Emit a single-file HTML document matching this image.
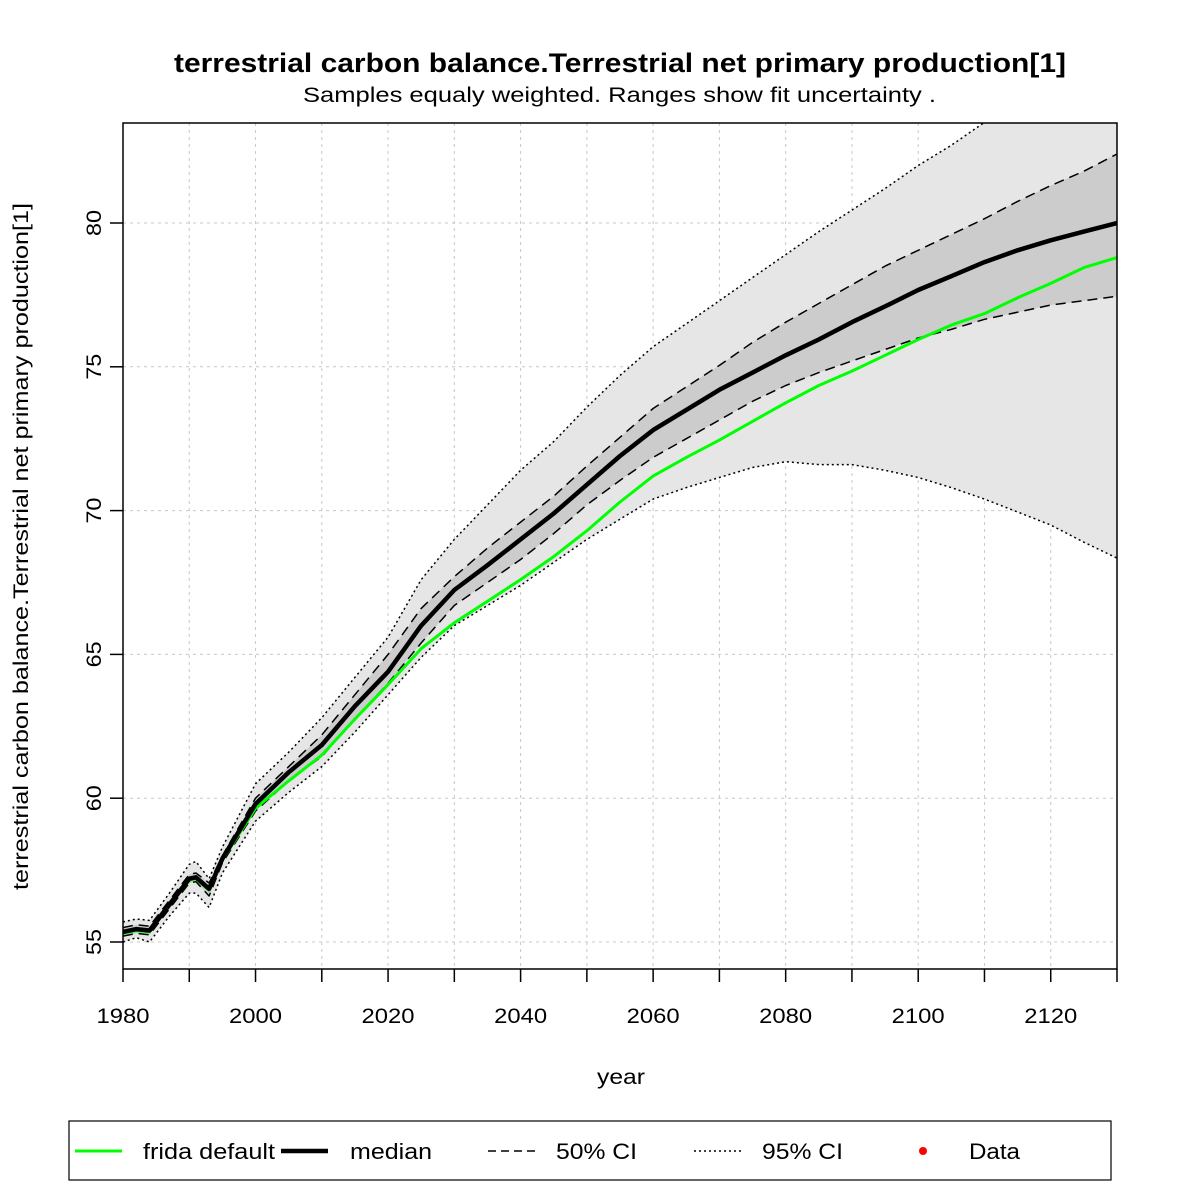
<!DOCTYPE html>
<html><head><meta charset="utf-8"><style>
body{margin:0;background:#fff;}
svg{display:block;font-family:"Liberation Sans",Arial,sans-serif;}
</style></head><body>
<svg id="chart" width="1181" height="1181" viewBox="0 0 1181 1181" xmlns="http://www.w3.org/2000/svg">
<defs><clipPath id="pc"><rect x="123" y="123" width="994" height="846"/></clipPath></defs>
<text x="174" y="72" font-size="27" font-weight="bold" textLength="892" lengthAdjust="spacingAndGlyphs">terrestrial carbon balance.Terrestrial net primary production[1]</text>
<text x="303" y="102" font-size="21" textLength="633" lengthAdjust="spacingAndGlyphs">Samples equaly weighted. Ranges show  fit uncertainty .</text>
<g id="grid"></g>
<g id="bands" clip-path="url(#pc)"></g>
<g id="lines" clip-path="url(#pc)"></g>
<rect x="123" y="123" width="994" height="846" fill="none" stroke="#000" stroke-width="1.5"/>
<g id="axes"></g>
<text x="597" y="1084" font-size="21" textLength="48" lengthAdjust="spacingAndGlyphs">year</text>
<text transform="translate(28,890) rotate(-90)" font-size="21" textLength="687" lengthAdjust="spacingAndGlyphs">terrestrial carbon balance.Terrestrial net primary production[1]</text>
<g>
<rect x="69" y="1121" width="1042" height="59" fill="none" stroke="#000" stroke-width="1.2"/>
<line x1="75" y1="1151" x2="122" y2="1151" stroke="#00ff00" stroke-width="3"/>
<text x="143" y="1159" font-size="22" textLength="132" lengthAdjust="spacingAndGlyphs">frida default</text>
<line x1="281" y1="1151" x2="328" y2="1151" stroke="#000" stroke-width="4.5"/>
<text x="350" y="1159" font-size="22" textLength="82" lengthAdjust="spacingAndGlyphs">median</text>
<line x1="488" y1="1151" x2="535" y2="1151" stroke="#000" stroke-width="1.5" stroke-dasharray="8,5"/>
<text x="556" y="1159" font-size="22" textLength="81" lengthAdjust="spacingAndGlyphs">50% CI</text>
<line x1="694" y1="1151" x2="741" y2="1151" stroke="#000" stroke-width="1.5" stroke-dasharray="2,3"/>
<text x="762" y="1159" font-size="22" textLength="81" lengthAdjust="spacingAndGlyphs">95% CI</text>
<circle cx="923" cy="1151" r="4" fill="#ff0000"/>
<text x="969" y="1159" font-size="22" textLength="51" lengthAdjust="spacingAndGlyphs">Data</text>
</g>
</svg>
<script>
const years=[1980,1982,1984,1987,1990,1991,1993,1995,2000,2005,2010,2015,2020,2025,2030,2035,2040,2045,2050,2055,2060,2065,2070,2075,2080,2085,2090,2095,2100,2105,2110,2115,2120,2125,2130];
const median=[55.35,55.45,55.4,56.3,57.2,57.25,56.85,57.9,59.8,60.9,61.85,63.2,64.4,66.0,67.24,68.1,69.0,69.9,70.9,71.9,72.8,73.5,74.2,74.8,75.4,75.95,76.55,77.1,77.67,78.15,78.64,79.05,79.4,79.7,80.0];
const fridaDefault=[55.3,55.4,55.35,56.3,57.15,57.2,56.8,57.85,59.65,60.6,61.5,62.75,63.95,65.2,66.1,66.85,67.6,68.4,69.3,70.3,71.2,71.85,72.45,73.1,73.75,74.35,74.85,75.4,75.95,76.45,76.85,77.4,77.9,78.45,78.8];
const ci50Upper=[55.5,55.6,55.55,56.45,57.35,57.4,57.05,58.0,60.0,61.1,62.2,63.6,65.0,66.6,67.7,68.7,69.6,70.5,71.55,72.55,73.55,74.3,75.05,75.85,76.55,77.2,77.85,78.5,79.05,79.6,80.15,80.75,81.3,81.8,82.4];
const ci50Lower=[55.2,55.3,55.25,56.15,57.05,57.1,56.6,57.75,59.55,60.6,61.45,62.75,64.0,65.4,66.7,67.5,68.3,69.2,70.2,71.05,71.85,72.5,73.15,73.8,74.35,74.8,75.2,75.6,76.0,76.3,76.65,76.9,77.15,77.3,77.45];
const ci95Upper=[55.7,55.8,55.75,56.7,57.7,57.8,57.2,58.3,60.5,61.6,62.8,64.2,65.6,67.6,69.0,70.2,71.4,72.4,73.6,74.7,75.7,76.5,77.3,78.1,78.9,79.7,80.45,81.2,82.0,82.7,83.5,84.3,85.0,85.8,86.5];
const ci95Lower=[55.0,55.15,55.0,55.9,56.7,56.7,56.2,57.4,59.2,60.2,61.1,62.3,63.6,64.9,66.0,66.7,67.4,68.2,69.0,69.7,70.4,70.8,71.15,71.5,71.7,71.6,71.6,71.4,71.15,70.8,70.4,69.95,69.5,68.9,68.35];
const xTicks=[1980,2000,2020,2040,2060,2080,2100,2120];
const xMinor=[1990,2010,2030,2050,2070,2090,2110,2130];
const yTicks=[55,60,65,70,75,80];
const NS="http://www.w3.org/2000/svg";
const X=y=>123+(y-1980)*994/150;
const Y=v=>942-(v-55)*719/25;
function mk(tag,attrs,parent){const e=document.createElementNS(NS,tag);for(const k in attrs)e.setAttribute(k,attrs[k]);parent.appendChild(e);return e;}
const grid=document.getElementById('grid'),axes=document.getElementById('axes'),bands=document.getElementById('bands'),lines=document.getElementById('lines');
xTicks.concat(xMinor).forEach(t=>{
 const g=mk('line',{x1:X(t),x2:X(t),y1:123,y2:969,stroke:'#c8c8c8','stroke-dasharray':'3,4'},grid);
 
 
 const tk=mk('line',{x1:X(t),x2:X(t),y1:969,y2:982,stroke:'#000','stroke-width':1.5},axes);
 
 
});
xTicks.forEach(t=>{
 const tx=mk('text',{x:X(t)-26.5,y:1023,'font-size':21,textLength:53,lengthAdjust:'spacingAndGlyphs'},axes);tx.textContent=t;
 
 
});
yTicks.forEach(t=>{
 const g=mk('line',{x1:123,x2:1117,y1:Y(t),y2:Y(t),stroke:'#c8c8c8','stroke-dasharray':'3,4'},grid);
 
 
 const tk=mk('line',{x1:110,x2:123,y1:Y(t),y2:Y(t),stroke:'#000','stroke-width':1.5},axes);
 
 
 const tx=mk('text',{transform:`translate(101,${Y(t)+13}) rotate(-90)`,'font-size':21,textLength:26,lengthAdjust:'spacingAndGlyphs'},axes);tx.textContent=t;
 
 
});
const pts=arr=>arr.map((v,i)=>X(years[i]).toFixed(1)+','+Y(v).toFixed(1));
function band(up,lo,fill,name){
 const p=mk('polygon',{points:pts(up).concat(pts(lo).reverse()).join(' '),fill:fill},bands);
 
 
}
band(ci95Upper,ci95Lower,'#e6e6e6','band-95ci');
band(ci50Upper,ci50Lower,'#cccccc','band-50ci');
function line(arr,attrs,name){
 const l=mk('polyline',Object.assign({points:pts(arr).join(' '),fill:'none','stroke-linejoin':'round'},attrs),lines);
 
 
}
line(ci95Upper,{stroke:'#000','stroke-width':1.5,'stroke-dasharray':'2,3'},'line-95ci-upper');
line(ci95Lower,{stroke:'#000','stroke-width':1.5,'stroke-dasharray':'2,3'},'line-95ci-lower');
line(ci50Upper,{stroke:'#000','stroke-width':1.5,'stroke-dasharray':'10,6'},'line-50ci-upper');
line(ci50Lower,{stroke:'#000','stroke-width':1.5,'stroke-dasharray':'10,6'},'line-50ci-lower');
line(fridaDefault,{stroke:'#00ff00','stroke-width':3},'line-frida-default');
line(median,{stroke:'#000','stroke-width':4.5},'line-median');
</script>
</body></html>
